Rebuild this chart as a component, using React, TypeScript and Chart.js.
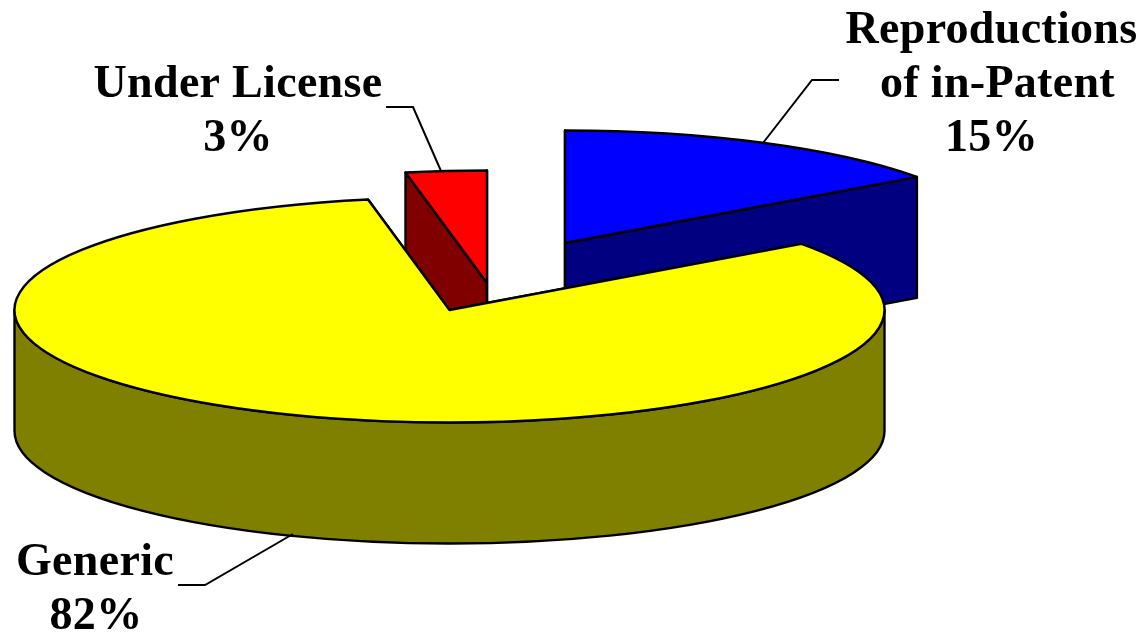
import React, { useEffect, useRef } from "react";
import { Chart, registerables } from "chart.js";

Chart.register(...registerables);

const categories = ["Reproductions of in-Patent", "Generic", "Under License"];
const values = [15, 82, 3];
const topColors = ["#0000FF", "#FFFF00", "#FF0000"];
const wallColors = ["#000080", "#808000", "#800000"];
const labelLines = [["Reproductions", "of in-Patent"], ["Generic"], ["Under License"]];

// layout / style
const W = 1145;
const H = 632;
const RADIUS = 435;
const SQUASH = 0.2586;
const DEPTH = 121;
const PAINT_ORDER = [0, 2, 1];
const EXPLODE = [
  [-7.5, -73],
  [-123, -6],
  [-85.5, -33],
];
const LABEL_X = [
  [991.5, 997.5, 991.5],
  [95, 96],
  [238, 238],
];
const LABEL_Y = [43, 575, 97];
const LINE_H = 54;
const LEADERS = [
  [[763, 143], [812, 80], [839, 80]],
  [[293, 534], [205, 585], [178, 585]],
  [[441, 171], [413, 107], [386, 107]],
];

const pie3d = {
  id: "pie3d",
  beforeDatasetDraw(chart: any, args: any) {
    const ctx = chart.ctx;
    const arcs = args.meta.data;
    ctx.save();
    ctx.lineWidth = 2.4;
    ctx.strokeStyle = "#000";
    ctx.lineJoin = "round";
    for (const i of PAINT_ORDER) {
      const arc = arcs[i];
      const ax = arc.x + EXPLODE[i][0];
      const ay = arc.y + EXPLODE[i][1];
      const rx = arc.outerRadius;
      const ry = rx * SQUASH;
      const s = arc.startAngle;
      const e = arc.endAngle;
      const pt = (t: number) => [ax + rx * Math.cos(t), ay + ry * Math.sin(t)];
      ctx.fillStyle = wallColors[i];
      // straight cut faces
      for (const t of [s, e]) {
        const p = pt(t);
        ctx.beginPath();
        ctx.moveTo(ax, ay);
        ctx.lineTo(p[0], p[1]);
        ctx.lineTo(p[0], p[1] + DEPTH);
        ctx.lineTo(ax, ay + DEPTH);
        ctx.closePath();
        ctx.fill();
        ctx.stroke();
      }
      // curved outer wall, front half only
      const a = Math.max(s, 0);
      const b = Math.min(e, Math.PI);
      if (b > a) {
        ctx.beginPath();
        ctx.ellipse(ax, ay, rx, ry, 0, a, b, false);
        ctx.ellipse(ax, ay + DEPTH, rx, ry, 0, b, a, true);
        ctx.closePath();
        ctx.fill();
        ctx.stroke();
      }
      // top face, drawn by the library's arc element
      ctx.save();
      ctx.translate(ax, ay);
      ctx.scale(1, SQUASH);
      ctx.translate(-arc.x, -arc.y);
      arc.draw(ctx);
      ctx.restore();
      ctx.beginPath();
      ctx.moveTo(ax, ay);
      ctx.ellipse(ax, ay, rx, ry, 0, s, e, false);
      ctx.closePath();
      ctx.stroke();
    }
    ctx.restore();
    return false;
  },
  afterDatasetsDraw(chart: any) {
    const ctx = chart.ctx;
    ctx.save();
    ctx.strokeStyle = "#000";
    ctx.lineWidth = 2;
    LEADERS.forEach((pts) => {
      ctx.beginPath();
      pts.forEach((p, k) => (k ? ctx.lineTo(p[0], p[1]) : ctx.moveTo(p[0], p[1])));
      ctx.stroke();
    });
    ctx.fillStyle = "#000";
    ctx.font = 'bold 46px "Liberation Serif"';
    ctx.letterSpacing = "0.3px";
    ctx.textAlign = "center";
    ctx.textBaseline = "alphabetic";
    categories.forEach((_, i) => {
      const lines = [...labelLines[i], `${values[i]}%`];
      lines.forEach((t, k) => ctx.fillText(t, LABEL_X[i][k], LABEL_Y[i] + k * LINE_H));
    });
    ctx.restore();
  },
};

export default function App() {
  const ref = useRef<HTMLCanvasElement>(null);
  useEffect(() => {
    const chart = new Chart(ref.current as HTMLCanvasElement, {
      type: "pie",
      data: {
        labels: categories,
        datasets: [
          {
            data: values,
            backgroundColor: topColors,
            borderWidth: 0,
          },
        ],
      },
      options: {
        animation: false,
        responsive: false,
        radius: RADIUS,
        rotation: 0,
        layout: { padding: 0 },
        plugins: { legend: { display: false }, tooltip: { enabled: false } },
      } as any,
      plugins: [pie3d as any],
    });
    return () => chart.destroy();
  }, []);
  return (
    <div style={{ position: "absolute", left: 0, top: 0, width: W, height: H, background: "#fff" }}>
      <canvas ref={ref} width={W} height={H} style={{ display: "block" }} />
    </div>
  );
}
